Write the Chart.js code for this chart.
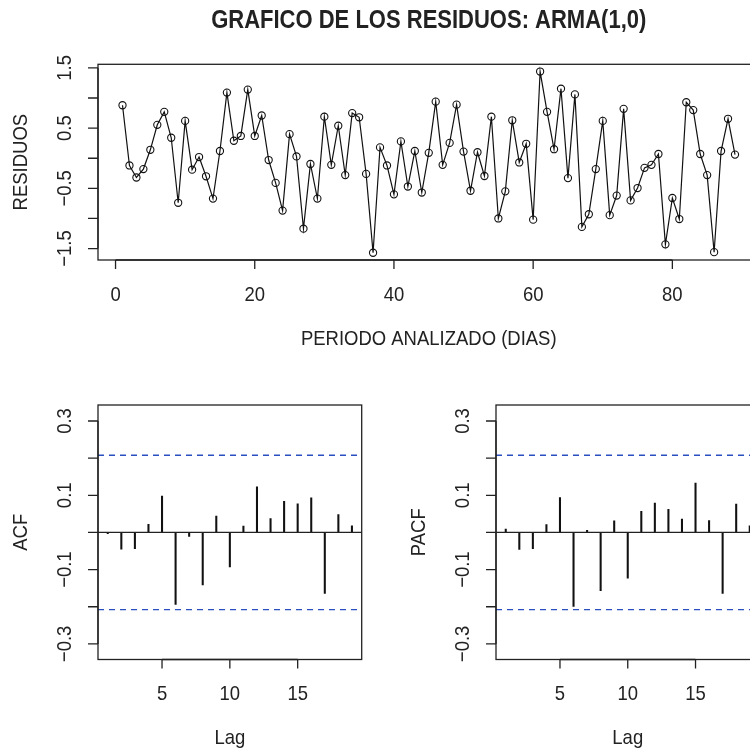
<!DOCTYPE html>
<html>
<head>
<meta charset="utf-8">
<script src="https://cdn.jsdelivr.net/npm/chart.js@4.4.1/dist/chart.umd.min.js"></script>
<style>
  html, body { margin: 0; padding: 0; background: #fff; overflow: hidden; width: 750px; height: 753px; }
  canvas { position: absolute; left: 0; top: 0; }
</style>
</head>
<body>
<canvas id="res" width="770" height="753"></canvas>
<canvas id="acf" width="770" height="753"></canvas>
<canvas id="pacf" width="770" height="753"></canvas>
<script>
// residuos del modelo ARMA(1,0), un valor por dia
const residuos = [0.88, -0.12, -0.32, -0.18, 0.14, 0.555, 0.77, 0.34, -0.74, 0.62,
  -0.19, 0.02, -0.30, -0.67, 0.12, 1.09, 0.29, 0.37, 1.14, 0.37,
  0.71, -0.03, -0.41, -0.87, 0.40, 0.03, -1.17, -0.095, -0.67, 0.69,
  -0.11, 0.54, -0.28, 0.75, 0.68, -0.26, -1.57, 0.18, -0.12, -0.60,
  0.28, -0.47, 0.12, -0.57, 0.09, 0.94, -0.11, 0.255, 0.89, 0.11,
  -0.54, 0.10, -0.295, 0.69, -1.0, -0.55, 0.63, -0.07, 0.24, -1.02,
  1.44, 0.77, 0.15, 1.155, -0.33, 1.06, -1.14, -0.93, -0.18, 0.62,
  -0.945, -0.62, 0.82, -0.70, -0.495, -0.16, -0.11, 0.07, -1.43, -0.66,
  -1.01, 0.93, 0.80, 0.07, -0.28, -1.56, 0.12, 0.655, 0.06];

const lags = [1, 2, 3, 4, 5, 6, 7, 8, 9, 10, 11, 12, 13, 14, 15, 16, 17, 18, 19];
const acfVals = [-0.003, -0.045, -0.044, 0.022, 0.098, -0.194, -0.011, -0.141, 0.044, -0.093,
  0.017, 0.123, 0.037, 0.084, 0.077, 0.093, -0.164, 0.048, 0.018];
const pacfVals = [0.009, -0.046, -0.044, 0.021, 0.094, -0.199, 0.006, -0.157, 0.031, -0.123,
  0.057, 0.079, 0.062, 0.036, 0.133, 0.032, -0.164, 0.076, 0.018];
const limiteConf = 0.2078; // 1.96/sqrt(89)

const diasTicks = [0, 20, 40, 60, 80];
const resTicks = [-1.5, -1, -0.5, 0, 0.5, 1, 1.5];
const resTickLabels = ['\u22121.5', '', '\u22120.5', '', '0.5', '', '1.5'];
const lagTicks = [5, 10, 15];
const corTicks = [-0.3, -0.2, -0.1, 0, 0.1, 0.2, 0.3];
const corTickLabels = ['\u22120.3', '', '\u22120.1', '', '0.1', '', '0.3'];

const FONT = '"Liberation Sans", Arial, Helvetica, sans-serif';
const NARROW = 0.88; // el texto original es algo mas estrecho

function drawText(ctx, text, x, y, font, rotate) {
  ctx.save();
  ctx.translate(x, y);
  if (rotate) ctx.rotate(-Math.PI / 2);
  ctx.scale(NARROW, 1);
  ctx.font = font;
  ctx.fillText(text, 0, 0);
  ctx.restore();
}

// dibuja caja, ejes y textos al estilo de R
const rAxes = {
  id: 'rAxes',
  afterDraw(chart, args, opts) {
    const ctx = chart.ctx;
    const a = chart.chartArea;
    const xs = chart.scales.x, ys = chart.scales.y;
    const f = '21px ' + FONT;
    ctx.save();

    if (opts.hlines) {
      for (const h of opts.hlines) {
        ctx.beginPath();
        ctx.strokeStyle = h.color;
        ctx.lineWidth = h.width || 1.2;
        ctx.setLineDash(h.dash || []);
        const py = ys.getPixelForValue(h.y);
        ctx.moveTo(a.left, py);
        ctx.lineTo(a.right, py);
        ctx.stroke();
      }
      ctx.setLineDash([]);
    }

    ctx.strokeStyle = '#222';
    ctx.lineWidth = 1.3;
    ctx.strokeRect(a.left, a.top, a.right - a.left, a.bottom - a.top);

    ctx.fillStyle = '#222';
    ctx.textAlign = 'center';
    ctx.textBaseline = 'middle';

    // eje x
    const x0 = xs.getPixelForValue(opts.xTicks[0]);
    const x1 = xs.getPixelForValue(opts.xTicks[opts.xTicks.length - 1]);
    ctx.beginPath();
    ctx.moveTo(x0, a.bottom);
    ctx.lineTo(x1, a.bottom);
    for (const t of opts.xTicks) {
      const px = xs.getPixelForValue(t);
      ctx.moveTo(px, a.bottom);
      ctx.lineTo(px, a.bottom + 9);
    }
    ctx.stroke();
    for (const t of opts.xTicks) {
      drawText(ctx, String(t), xs.getPixelForValue(t), a.bottom + 35, f);
    }
    drawText(ctx, opts.xTitle, (a.left + a.right) / 2, a.bottom + 79, f);

    // eje y
    const y0 = ys.getPixelForValue(opts.yTicks[0]);
    const y1 = ys.getPixelForValue(opts.yTicks[opts.yTicks.length - 1]);
    ctx.beginPath();
    ctx.moveTo(a.left, y0);
    ctx.lineTo(a.left, y1);
    for (const t of opts.yTicks) {
      const py = ys.getPixelForValue(t);
      ctx.moveTo(a.left, py);
      ctx.lineTo(a.left - 10, py);
    }
    ctx.stroke();
    opts.yTicks.forEach((t, i) => {
      if (!opts.yLabels[i]) return;
      drawText(ctx, opts.yLabels[i], a.left - 33, ys.getPixelForValue(t), f, true);
    });
    drawText(ctx, opts.yTitle, a.left - 77, (a.top + a.bottom) / 2, f, true);

    if (opts.title) {
      drawText(ctx, opts.title, (a.left + a.right) / 2, 21, 'bold 25px ' + FONT);
    }
    ctx.restore();
  }
};

function hiddenScale(min, max) {
  return { type: 'linear', min, max, offset: false, display: false };
}

new Chart(document.getElementById('res'), {
  type: 'line',
  data: {
    datasets: [{
      data: residuos.map((v, i) => ({ x: i + 1, y: v })),
      borderColor: '#111',
      borderWidth: 1.2,
      tension: 0,
      pointRadius: 3.6,
      pointBorderWidth: 1.1,
      pointBorderColor: '#111',
      pointBackgroundColor: 'rgba(0,0,0,0)'
    }]
  },
  options: {
    responsive: false,
    animation: false,
    layout: { padding: { left: 98, top: 64.3, right: 10.5, bottom: 493 } },
    scales: { x: hiddenScale(-2.52, 92.52), y: hiddenScale(-1.69, 1.56) },
    plugins: {
      legend: { display: false },
      tooltip: { enabled: false },
      rAxes: {
        xTicks: diasTicks, yTicks: resTicks, yLabels: resTickLabels,
        xTitle: 'PERIODO ANALIZADO (DIAS)', yTitle: 'RESIDUOS',
        title: 'GRAFICO DE LOS RESIDUOS: ARMA(1,0)'
      }
    }
  },
  plugins: [rAxes]
});

function corChart(id, vals, yTitle, left, right) {
  new Chart(document.getElementById(id), {
    type: 'bar',
    data: {
      datasets: [{
        data: lags.map((l, i) => ({ x: l, y: vals[i] })),
        backgroundColor: '#111',
        barThickness: 1.4
      }]
    },
    options: {
      responsive: false,
      animation: false,
      layout: { padding: { left: left, top: 405, right: 770 - right, bottom: 753 - 659.5 } },
      scales: { x: hiddenScale(0.28, 19.72), y: hiddenScale(-0.342, 0.343) },
      plugins: {
        legend: { display: false },
        tooltip: { enabled: false },
        rAxes: {
          xTicks: lagTicks, yTicks: corTicks, yLabels: corTickLabels,
          xTitle: 'Lag', yTitle: yTitle,
          hlines: [
            { y: 0, color: '#222' },
            { y: limiteConf, color: '#2a4fc0', dash: [6, 5], width: 1.4 },
            { y: -limiteConf, color: '#2a4fc0', dash: [6, 5], width: 1.4 }
          ]
        }
      }
    },
    plugins: [rAxes]
  });
}

corChart('acf', acfVals, 'ACF', 98, 361.7);
corChart('pacf', pacfVals, 'PACF', 496, 759.5);
</script>
</body>
</html>
